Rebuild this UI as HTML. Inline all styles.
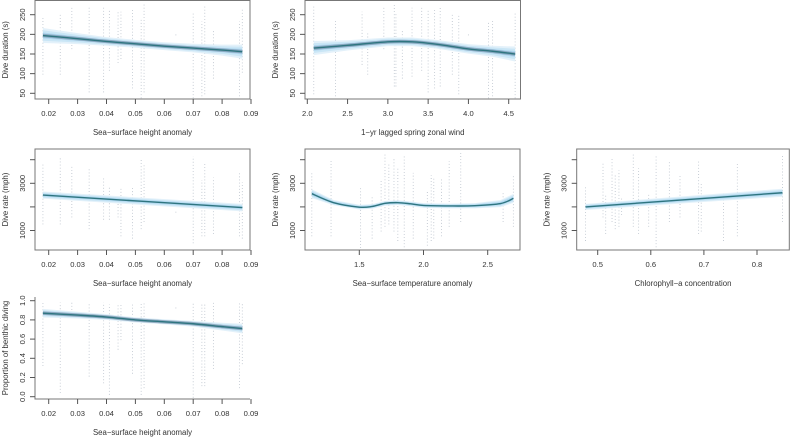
<!DOCTYPE html>
<html><head><meta charset="utf-8">
<style>
html,body{margin:0;padding:0;background:#fff;}
svg{display:block;font-family:"Liberation Sans",sans-serif;}
</style></head>
<body>
<svg id="c" width="793" height="437" viewBox="0 0 793 437"></svg>
<script>
// ---------- data ----------
const sshStripes = [0.018,0.024,0.028,0.034,0.039,0.041,0.044,0.045,0.049,0.052,0.053,0.064,0.070,0.073,0.074,0.077,0.086,0.087];
const durSshLo = [100,100,165,55,55,110,130,140,65,40,55,200,40,45,50,90,45,105];
const durSshHi = [240,250,270,265,265,260,255,255,265,240,275,200,255,230,270,210,230,265];
const durSshFitX = [0.018,0.03,0.04,0.05,0.06,0.07,0.08,0.087];
const durSshFitY = [197,189,182,176,170,165,160,156];
const durSshCi = [19,14,11,10,10,11,14,18];

const windStripes = [2.08,2.35,2.68,2.75,2.95,3.08,3.10,3.18,3.30,3.42,3.50,3.58,3.65,3.80,3.88,4.00,4.25,4.30,4.58];
const durWindLo = [50,45,125,100,165,70,70,90,95,110,55,65,70,100,50,200,40,45,40];
const durWindHi = [270,235,255,200,270,275,250,210,265,265,260,265,265,250,250,200,230,235,255];
const durWindFitX = [2.08,2.5,3.0,3.3,3.6,4.0,4.3,4.58];
const durWindFitY = [165,172,181,181,175,163,157,150];
const durWindCi = [18,13,11,11,11,12,14,19];

const rateSshLo = [1300,1300,1600,1100,1500,1500,1600,800,700,1100,1400,1800,500,800,800,900,800,700];
const rateSshHi = [3800,4100,3700,3600,3200,2800,2100,2800,2800,4000,3800,1800,4100,3100,3800,3200,3400,3000];
const rateSshFitX = [0.018,0.087];
const rateSshFitY = [2500,1970];
const rateSshCi = [150,160];

const sstStripes = [1.13,1.28,1.51,1.60,1.67,1.70,1.73,1.77,1.80,1.85,1.92,2.03,2.06,2.08,2.14,2.20,2.29,2.62,2.70];
const rateSstLo = [800,800,300,700,1000,1200,1300,1000,600,200,700,400,600,700,800,1200,1400,1400,1200];
const rateSstHi = [3400,3900,2800,2400,3100,4200,3800,4000,3600,4100,3400,2600,3300,3200,3200,3900,4300,2600,3300];
const rateSstFitX = [1.13,1.3,1.5,1.6,1.7,1.8,1.9,2.0,2.2,2.4,2.6,2.7];
const rateSstFitY = [2560,2180,1990,2020,2150,2180,2130,2060,2040,2050,2140,2360];
const rateSstCi = [190,110,100,100,100,100,100,100,100,110,150,190];

const chlStripes = [0.477,0.51,0.515,0.527,0.533,0.54,0.545,0.567,0.577,0.596,0.61,0.635,0.655,0.69,0.695,0.737,0.763,0.848];
const rateChlLo = [600,1600,900,1400,1100,1200,1700,1200,900,1200,200,1400,1600,900,1000,600,800,1400];
const rateChlHi = [2800,3800,2500,4000,3300,3500,2400,4200,3600,2500,4100,3900,3300,3900,3000,2600,3800,4200];
const rateChlFitX = [0.477,0.848];
const rateChlFitY = [2000,2600];
const rateChlCi = [130,170];

const benLo = [0.33,0.05,0.85,0.22,0.15,0.03,0.5,0.6,0.25,0.03,0.1,0.93,0.0,0.12,0.12,0.3,0.1,0.35];
const benHi = [0.97,0.97,0.97,0.97,0.97,0.95,0.95,0.95,0.97,0.97,0.97,0.93,0.97,0.97,0.97,0.97,0.97,0.97];
const benFitX = [0.018,0.03,0.04,0.05,0.06,0.07,0.08,0.087];
const benFitY = [0.87,0.85,0.83,0.80,0.78,0.76,0.73,0.71];
const benCi = [0.045,0.035,0.03,0.027,0.027,0.03,0.04,0.05];

const sshTicks = [0.02,0.03,0.04,0.05,0.06,0.07,0.08,0.09];
const sshTickLabels = ["0.02","0.03","0.04","0.05","0.06","0.07","0.08","0.09"];
const windTicks = [2.0,2.5,3.0,3.5,4.0,4.5];
const windTickLabels = ["2.0","2.5","3.0","3.5","4.0","4.5"];
const sstTicks = [1.5,2.0,2.5];
const sstTickLabels = ["1.5","2.0","2.5"];
const chlTicks = [0.5,0.6,0.7,0.8];
const chlTickLabels = ["0.5","0.6","0.7","0.8"];
const durTicks = [50,100,150,200,250];
const durTickLabels = ["50","100","150","200","250"];
const rateTicks = [1000,2000,3000,4000];
const rateTickLabels = ["1000","","3000",""];
const benTicks = [0,0.2,0.4,0.6,0.8,1.0];
const benTickLabels = ["0.0","0.2","0.4","0.6","0.8","1.0"];

// ---------- drawing ----------
const svg = document.getElementById('c');
const NS = 'http://www.w3.org/2000/svg';
function mk(tag, attrs, parent){
  const e = document.createElementNS(NS, tag);
  for (const k in attrs) e.setAttribute(k, attrs[k]);
  (parent||svg).appendChild(e);
  return e;
}
function linScale(v0,p0,v1,p1){ return v => p0 + (v - v0) * (p1 - p0) / (v1 - v0); }

function panel(cfg){
  const g = mk('g', {});
  
  
  const X = linScale(cfg.xa[0], cfg.xa[1], cfg.xb[0], cfg.xb[1]);
  const Y = linScale(cfg.ya[0], cfg.ya[1], cfg.yb[0], cfg.yb[1]);
  const L = cfg.box[0], T = cfg.box[1], R = cfg.box[2], B = cfg.box[3];
  const pg = mk('g', {}, g);
  
  
  cfg.sx.forEach((xv, i) => {
    const x = X(xv), y1 = Y(cfg.lo[i]), y2 = Y(cfg.hi[i]);
    const ln = mk('line', {x1:x, x2:x, y1:Math.max(y1, y2) + 1, y2:Math.min(y1, y2) - 1,
      stroke:'#8a97a8', 'stroke-width':0.9, 'stroke-dasharray':'0.9 2.2', opacity:0.55}, pg);
    
    
  });
  const fx = cfg.fx, fy = cfg.fy, ci = cfg.ci;
  const layers = [[1, '#e0f0fa', 0.9], [0.7, '#c6e4f5', 0.85], [0.4, '#abd5ee', 0.85]];
  layers.forEach(l => {
    let pts = [];
    for (let i = 0; i < fx.length; i++) pts.push(X(fx[i]) + ',' + Y(fy[i] + ci[i] * l[0]));
    for (let i = fx.length - 1; i >= 0; i--) pts.push(X(fx[i]) + ',' + Y(fy[i] - ci[i] * l[0]));
    const p = mk('polygon', {points:pts.join(' '), fill:l[1], opacity:l[2]}, g);
    
    
  });
  const px = fx.map(X), py = fy.map(Y);
  let d = 'M' + px[0] + ',' + py[0];
  for (let i = 0; i < px.length - 1; i++) {
    const x0 = px[Math.max(i-1,0)], y0 = py[Math.max(i-1,0)];
    const x3 = px[Math.min(i+2,px.length-1)], y3 = py[Math.min(i+2,px.length-1)];
    const c1x = px[i] + (px[i+1] - x0) / 6, c1y = py[i] + (py[i+1] - y0) / 6;
    const c2x = px[i+1] - (x3 - px[i]) / 6, c2y = py[i+1] - (y3 - py[i]) / 6;
    d += ' C' + c1x + ',' + c1y + ' ' + c2x + ',' + c2y + ' ' + px[i+1] + ',' + py[i+1];
  }
  if (cfg.dark) {
    const sh = mk('path', {d:d, fill:'none', stroke:'#5a6f88', 'stroke-width':3.5, opacity:0.45}, g);
    
    
  }
  const fl = mk('path', {d:d, fill:'none', stroke:'#2f7580', 'stroke-width':1.4}, g);
  
  
  if (cfg.lbox) {
    const f = mk('path', {d:`M${L},${T} L${L},${B} L${R},${B}`, fill:'none', stroke:'#777', 'stroke-width':1}, g);
    
    
  } else {
    const f = mk('rect', {x:L, y:T, width:R-L, height:B-T, fill:'none', stroke:'#777', 'stroke-width':1}, g);
    
    
  }
  cfg.xt.forEach((v, i) => {
    const x = X(v);
    const t = mk('line', {x1:x, x2:x, y1:B, y2:B+5, stroke:'#555', 'stroke-width':1}, g);
    
    
    const tx = mk('text', {x:x, y:B+17, 'font-size':7.6, fill:'#333', 'text-anchor':'middle'}, g);
    tx.textContent = cfg.xl[i];
    
    
  });
  cfg.yt.forEach((v, i) => {
    const y = Y(v);
    const t = mk('line', {x1:L-5, x2:L, y1:y, y2:y, stroke:'#555', 'stroke-width':1}, g);
    
    
    if (cfg.yl[i]) {
      const tx = mk('text', {x:L-10, y:y, 'font-size':7.6, fill:'#333', 'text-anchor':'middle',
        transform:`rotate(-90 ${L-10} ${y})`}, g);
      tx.textContent = cfg.yl[i];
      
      
    }
  });
  const xt = mk('text', {x:(L+R)/2, y:B+36, 'font-size':7.8, fill:'#333', 'text-anchor':'middle'}, g);
  xt.textContent = cfg.xtitle;
  
  
  const yc = (T+B)/2, yx = L-27;
  const yt = mk('text', {x:yx, y:yc, 'font-size':7.8, fill:'#333', 'text-anchor':'middle',
    transform:`rotate(-90 ${yx} ${yc})`}, g);
  yt.textContent = cfg.ytitle;
  
  
}

const r1 = {ya:[250,14.7], yb:[50,93.3]};
const r2 = {ya:[3000,183.3], yb:[1000,230.5]};
panel({name:'panel-duration-vs-ssh', box:[35,0.5,250,99], xa:[0.02,48.7], xb:[0.09,251], ya:r1.ya, yb:r1.yb,
  sx:sshStripes, lo:durSshLo, hi:durSshHi, fx:durSshFitX, fy:durSshFitY, ci:durSshCi, dark:true,
  xt:sshTicks, xl:sshTickLabels, yt:durTicks, yl:durTickLabels,
  xtitle:'Sea\u2212surface height anomaly', ytitle:'Dive duration (s)'});
panel({name:'panel-duration-vs-wind', box:[305,0.5,520.5,99], xa:[2.0,307.3], xb:[4.5,508.7], ya:r1.ya, yb:r1.yb,
  sx:windStripes, lo:durWindLo, hi:durWindHi, fx:durWindFitX, fy:durWindFitY, ci:durWindCi, dark:true,
  xt:windTicks, xl:windTickLabels, yt:durTicks, yl:durTickLabels,
  xtitle:'1\u2212yr lagged spring zonal wind', ytitle:'Dive duration (s)'});
panel({name:'panel-rate-vs-ssh', box:[35,149,250,250], xa:[0.02,48.7], xb:[0.09,251], ya:r2.ya, yb:r2.yb,
  sx:sshStripes, lo:rateSshLo, hi:rateSshHi, fx:rateSshFitX, fy:rateSshFitY, ci:rateSshCi,
  xt:sshTicks, xl:sshTickLabels, yt:rateTicks, yl:rateTickLabels,
  xtitle:'Sea\u2212surface height anomaly', ytitle:'Dive rate (mph)'});
panel({name:'panel-rate-vs-sst', box:[305,149,520,250], xa:[1.5,359.3], xb:[2.5,487.7], ya:r2.ya, yb:r2.yb,
  sx:sstStripes, lo:rateSstLo, hi:rateSstHi, fx:rateSstFitX, fy:rateSstFitY, ci:rateSstCi,
  xt:sstTicks, xl:sstTickLabels, yt:rateTicks, yl:rateTickLabels,
  xtitle:'Sea\u2212surface temperature anomaly', ytitle:'Dive rate (mph)'});
panel({name:'panel-rate-vs-chlorophyll', box:[576.7,149,789.3,250], xa:[0.5,597.7], xb:[0.8,757], ya:r2.ya, yb:r2.yb,
  sx:chlStripes, lo:rateChlLo, hi:rateChlHi, fx:rateChlFitX, fy:rateChlFitY, ci:rateChlCi,
  xt:chlTicks, xl:chlTickLabels, yt:rateTicks, yl:rateTickLabels,
  xtitle:'Chlorophyll\u2212a concentration', ytitle:'Dive rate (mph)'});
panel({name:'panel-benthic-vs-ssh', box:[35,297,250,399], lbox:true, xa:[0.02,48.7], xb:[0.09,251], ya:[1.0,300.7], yb:[0,396.7],
  sx:sshStripes, lo:benLo, hi:benHi, fx:benFitX, fy:benFitY, ci:benCi, dark:true,
  xt:sshTicks, xl:sshTickLabels, yt:benTicks, yl:benTickLabels,
  xtitle:'Sea\u2212surface height anomaly', ytitle:'Proportion of benthic diving'});
</script>
</body></html>
